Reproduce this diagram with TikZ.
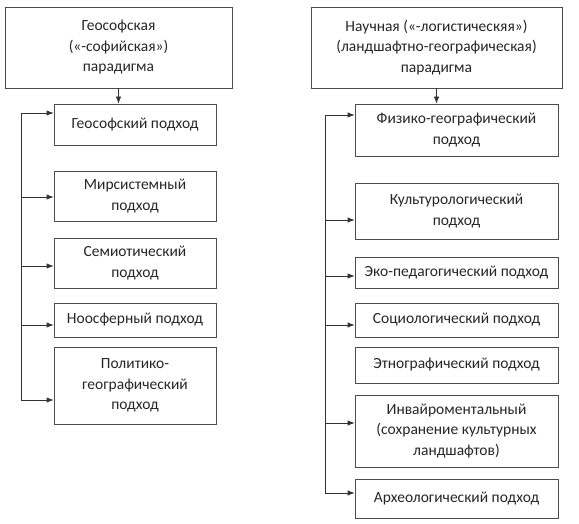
\documentclass[tikz,border=0pt]{standalone}
\usepackage{fontspec}
\setmainfont{Carlito}
\usetikzlibrary{arrows.meta}
\begin{document}
\begin{tikzpicture}[x = 1pt, y = -1pt, color = black!80, line width = 0.8pt, >={Latex[length=7pt, width=5.5pt]}]
        \tikzstyle{box} = [rectangle, draw=black!70, text=black!85, align=center, inner sep=0pt, font=\fontsize{15.5}{20.5}\selectfont]
        \tikzstyle{leftbox} = [box, minimum width = 162pt]
        \tikzstyle{rightbox} = [box, minimum width = 203pt]
        \useasboundingbox (0,0) rectangle (579,524);

        % left column
        \node[box, minimum width = 227pt, minimum height = 81pt](Geosoph) at (118.5,47.5) {Геософская\\(«-софийская»)\\парадигма};
        \node[leftbox, minimum height = 41pt](Geosophic) at (135,124.5) {Геософский подход};
        \node[leftbox, minimum height = 50pt](Worldsys) at (135,196) {Мирсистемный\\подход};
        \node[leftbox, minimum height = 50pt](Semiotic) at (135,263) {Семиотический\\подход};
        \node[leftbox, minimum height = 34pt](Noosphere) at (135,320) {Ноосферный подход};
        \node[leftbox, minimum height = 77pt](Politgeo) at (135,385.5) {Политико-\\географический\\подход};

        % right column
        \node[box, minimum width = 251pt, minimum height = 81pt](Science) at (436.5,47.5) {Научная («-логистическяя»)\\(ландшафтно-географическая)\\парадигма};
        \node[rightbox, minimum height = 52pt](Physgeo) at (456.5,130) {Физико-географический\\подход};
        \node[rightbox, minimum height = 56pt](Cultural) at (456.5,211) {Культурологический\\подход};
        \node[rightbox, minimum height = 31pt](Ecoped) at (456.5,272.5) {Эко-педагогический подход};
        \node[rightbox, minimum height = 34pt](Sociol) at (456.5,320) {Социологический подход};
        \node[rightbox, minimum height = 36pt](Ethno) at (456.5,365) {Этнографический подход};
        \node[rightbox, minimum height = 72pt](Environ) at (456.5,431) {Инвайроментальный\\(сохранение культурных\\ландшафтов)};
        \node[rightbox, minimum height = 39pt](Archeo) at (456.5,498.5) {Археологический подход};

        % trunk points
        \coordinate(l1) at (21,113);
        \coordinate(l2) at (21,197);
        \coordinate(l3) at (21,266);
        \coordinate(l4) at (21,325);
        \coordinate(l5) at (21,400);
        \coordinate(r1) at (325,115);
        \coordinate(r2) at (325,220);
        \coordinate(r3) at (325,276);
        \coordinate(r4) at (325,325);
        \coordinate(r6) at (325,423);
        \coordinate(r7) at (325,493);

        \draw [->] (Geosoph.south) -- (Geosoph.south |- Geosophic.north);
        \draw (l1) -- (l5);
        \draw [->] (l1) -- (l1 -| Geosophic.west);
        \draw [->] (l2) -- (l2 -| Worldsys.west);
        \draw [->] (l3) -- (l3 -| Semiotic.west);
        \draw [->] (l4) -- (l4 -| Noosphere.west);
        \draw [->] (l5) -- (l5 -| Politgeo.west);

        \draw [->] (Science.south) -- (Science.south |- Physgeo.north);
        \draw (r1) -- (r7);
        \draw [->] (r1) -- (r1 -| Physgeo.west);
        \draw [->] (r2) -- (r2 -| Cultural.west);
        \draw [->] (r3) -- (r3 -| Ecoped.west);
        \draw [->] (r4) -- (r4 -| Sociol.west);
        \draw [->] (r6) -- (r6 -| Environ.west);
        \draw [->] (r7) -- (r7 -| Archeo.west);

    \end{tikzpicture}
\end{document}
